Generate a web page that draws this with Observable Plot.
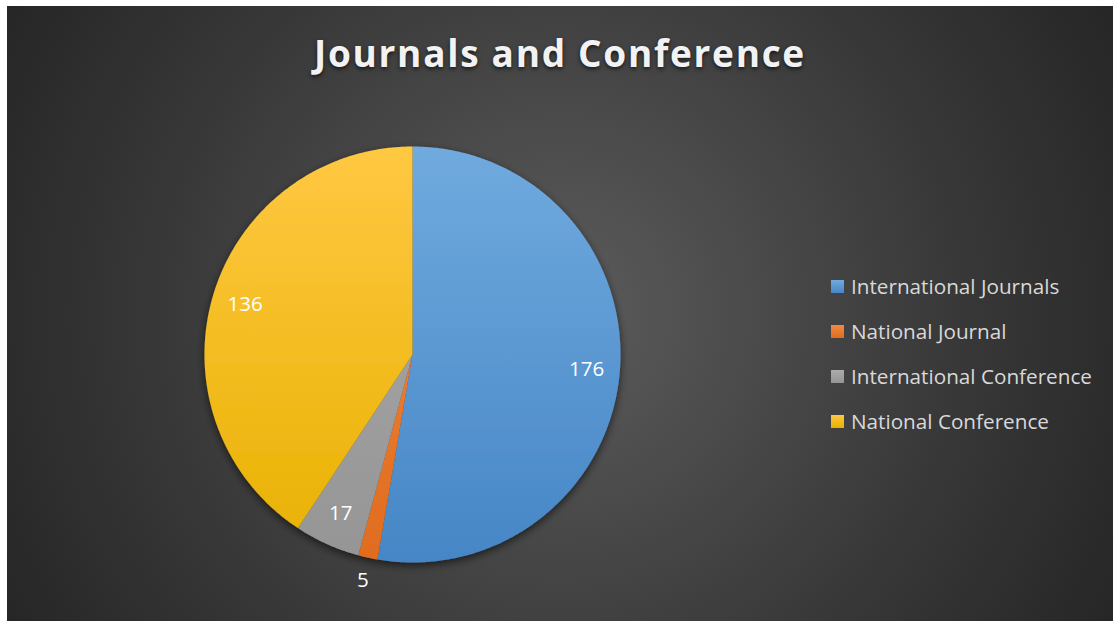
<!DOCTYPE html>
<html>
<head>
<meta charset="utf-8">
<script src="https://cdn.jsdelivr.net/npm/d3@7"></script>
<script src="https://cdn.jsdelivr.net/npm/@observablehq/plot@0.6"></script>
<style>
html,body{margin:0;padding:0;background:#fff;}
#wrap{position:relative;width:1113px;height:623px;overflow:hidden;background:#fff;}
#panel{position:absolute;left:7px;top:6px;width:1106px;height:615px;
  background:radial-gradient(circle farthest-corner at 50% 50%, #5c5c5c 0%, #4b4b4b 30%, #373737 65%, #262626 100%);}
#title{position:absolute;left:0;width:100%;top:21px;text-align:center;
  font-family:"Open Sans",sans-serif;font-weight:700;font-size:37px;letter-spacing:1.7px;
  color:#f2f2f2;text-shadow:0 2px 4px rgba(0,0,0,0.65);}
#chart{position:absolute;left:0;top:0;}
#legend{position:absolute;left:824px;top:265px;font-family:"Open Sans",sans-serif;font-size:20.7px;color:#d9d9d9;}
.row{position:absolute;left:0;white-space:nowrap;height:30px;line-height:30px;}
.sw{position:absolute;left:0;top:9px;width:13px;height:13px;}
.lab{position:absolute;left:20px;top:0;}
</style>
</head>
<body>
<div id="wrap"><div id="panel">
  <div id="chart"></div>
  <div id="title">Journals and Conference</div>
  <div id="legend"></div>
</div></div>
<script>
const categories = ["International Journals", "National Journal", "International Conference", "National Conference"];
const values = [176, 5, 17, 136];
const colors = ["#5b9bd5", "#ed7d31", "#a5a5a5", "#ffc000"];
const gradTop = ["#70aade", "#f28a45", "#ababab", "#ffc842"];
const gradBot = ["#4686c6", "#e06c1e", "#959595", "#e8b100"];

const W = 1106, H = 615, CX = 405, CY = 348, R = 208;

const arcs = d3.pie().sort(null).startAngle(0).endAngle(2 * Math.PI)(values);
const total = d3.sum(values);

// polygon vertices for each slice (unit circle, y up)
const pts = [];
arcs.forEach((a, i) => {
  const n = Math.max(4, Math.ceil((a.endAngle - a.startAngle) / (Math.PI / 360)));
  pts.push({cat: categories[i], i, x: 0, y: 0});
  for (let k = 0; k <= n; k++) {
    const t = a.startAngle + (a.endAngle - a.startAngle) * k / n;
    pts.push({cat: categories[i], i, x: Math.sin(t), y: Math.cos(t)});
  }
});

const labels = arcs.map((a, i) => {
  const m = (a.startAngle + a.endAngle) / 2;
  const k = values[i] / total < 0.03 ? 1.11 : 0.84;
  return {text: String(values[i]), x: k * Math.sin(m), y: k * Math.cos(m)};
});

const marks = categories.map((c, i) =>
  Plot.line(pts.filter(d => d.i === i), {x: "x", y: "y", fill: `url(#slice${i})`, stroke: "none", curve: "linear-closed"})
);
marks.push(Plot.text(labels, {x: "x", y: "y", text: "text", fill: "white", fontSize: 20.5, fontFamily: "Open Sans"}));

const plot = Plot.plot({
  width: W, height: H,
  margin: 0,
  style: {background: "transparent", overflow: "visible"},
  x: {domain: [-CX / R, (W - CX) / R], range: [0, W], axis: null},
  y: {domain: [-(H - CY) / R, CY / R], range: [H, 0], axis: null},
  marks
});

// gradients + shadow
const svg = d3.select(plot);
const defs = svg.insert("defs", ":first-child");
colors.forEach((c, i) => {
  const g = defs.append("linearGradient").attr("id", `slice${i}`)
    .attr("gradientUnits", "userSpaceOnUse").attr("x1", 0).attr("x2", 0)
    .attr("y1", CY - R).attr("y2", CY + R);
  g.append("stop").attr("offset", "0%").attr("stop-color", gradTop[i]);
  g.append("stop").attr("offset", "100%").attr("stop-color", gradBot[i]);
});
const f = defs.append("filter").attr("id", "pieShadow").attr("x", "-20%").attr("y", "-20%").attr("width", "140%").attr("height", "140%");
f.append("feDropShadow").attr("dx", 0).attr("dy", 3).attr("stdDeviation", 4).attr("flood-color", "#000").attr("flood-opacity", 0.6);
const lineGroups = plot.querySelectorAll('g[aria-label="line"]');
const holder = document.createElementNS("http://www.w3.org/2000/svg", "g");
holder.setAttribute("filter", "url(#pieShadow)");
lineGroups[0].parentNode.insertBefore(holder, lineGroups[0]);
lineGroups.forEach(g => holder.appendChild(g));

document.getElementById("chart").appendChild(plot);

// legend
const legend = d3.select("#legend");
const rowY = [0, 45, 90, 135];
categories.forEach((c, i) => {
  const r = legend.append("div").attr("class", "row").style("top", rowY[i] + "px");
  r.append("div").attr("class", "sw").style("background", `linear-gradient(${gradTop[i]}, ${gradBot[i]})`);
  r.append("div").attr("class", "lab").text(c);
});
</script>
</body>
</html>
